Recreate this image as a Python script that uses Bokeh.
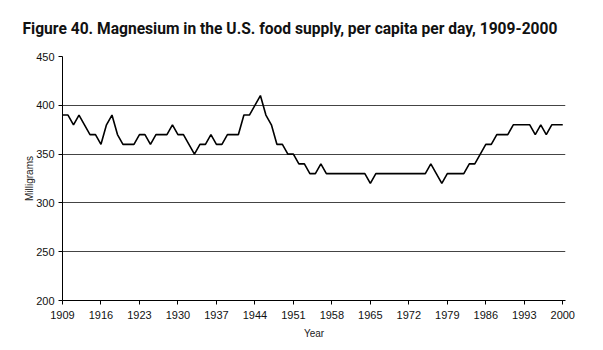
from bokeh.plotting import figure
from bokeh.models import FixedTicker, Range1d
from bokeh.embed import file_html
from bokeh.resources import INLINE

years = list(range(1909, 2001))
magnesium = [
    390, 390, 380, 390, 380, 370, 370, 360, 380, 390,   # 1909-1918
    370, 360, 360, 360, 370, 370, 360, 370, 370, 370,   # 1919-1928
    380, 370, 370, 360, 350, 360, 360, 370, 360, 360,   # 1929-1938
    370, 370, 370, 390, 390, 400, 410, 390, 380, 360,   # 1939-1948
    360, 350, 350, 340, 340, 330, 330, 340, 330, 330,   # 1949-1958
    330, 330, 330, 330, 330, 330, 320, 330, 330, 330,   # 1959-1968
    330, 330, 330, 330, 330, 330, 330, 340, 330, 320,   # 1969-1978
    330, 330, 330, 330, 340, 340, 350, 360, 360, 370,   # 1979-1988
    370, 370, 380, 380, 380, 380, 370, 380, 370, 380,   # 1989-1998
    380, 380,                                           # 1999-2000
]
x_ticks = [1909, 1916, 1923, 1930, 1937, 1944, 1951, 1958, 1965, 1972, 1979, 1986, 1993, 2000]
y_ticks = [200, 250, 300, 350, 400, 450]

title_text = "Figure 40. Magnesium in the U.S. food supply, per capita per day, 1909-2000"

p = figure(width=603, height=350, output_backend="svg", toolbar_location=None,
           x_range=Range1d(1909, 2000.5), y_range=Range1d(200, 450),
           title=title_text)

p.min_border_left = 62
p.min_border_right = 38
p.min_border_top = 56
p.min_border_bottom = 50
p.outline_line_color = None
p.background_fill_color = "white"
p.border_fill_color = "white"

p.title.text_font = "Roboto"
p.title.text_font_style = "bold"
p.title.text_font_size = "15.6px"
p.title.text_color = "#111111"
p.title.offset = -40
p.title.standoff = 33
p.title.vertical_align = "top"

p.line(years, magnesium, line_color="black", line_width=1.6)

p.xaxis.ticker = FixedTicker(ticks=x_ticks)
p.yaxis.ticker = FixedTicker(ticks=y_ticks)
p.xaxis.minor_tick_line_color = None
p.yaxis.minor_tick_line_color = None
for ax in (p.xaxis, p.yaxis):
    ax.axis_line_color = "black"
    ax.major_tick_line_color = "black"
    ax.major_tick_in = 0
    ax.major_tick_out = 4
    ax.major_label_text_font = "Liberation Sans"
    ax.major_label_text_font_size = "11px"
    ax.major_label_text_color = "#111111"
    ax.axis_label_text_font = "Liberation Sans"
    ax.axis_label_text_font_size = "10px"
    ax.axis_label_text_font_style = "normal"
    ax.axis_label_text_color = "#222222"
p.xaxis.axis_label = "Year"
p.yaxis.axis_label = "Milligrams"
p.xaxis.major_label_standoff = 6
p.yaxis.major_label_standoff = 4
p.xaxis.axis_label_standoff = 6
p.yaxis.axis_label_standoff = -2

p.xgrid.grid_line_color = None
p.ygrid.grid_line_color = "#444444"
p.ygrid.grid_line_width = 1

open("out.html", "w").write(file_html(p, INLINE))
